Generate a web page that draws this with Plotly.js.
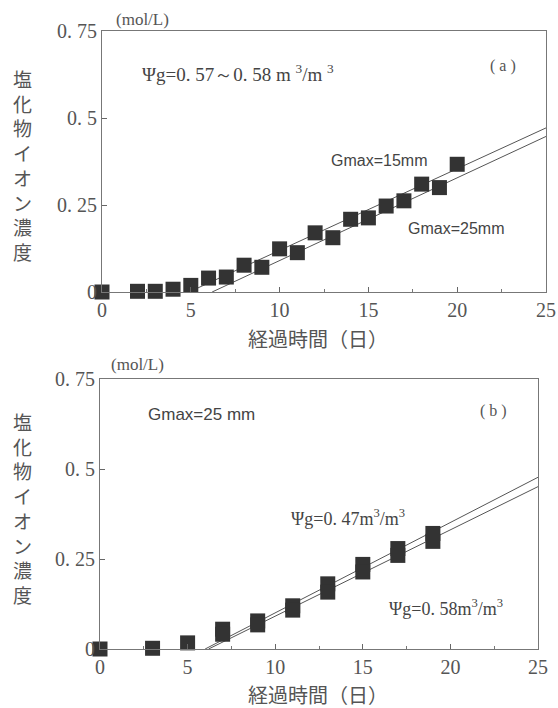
<!DOCTYPE html>
<html>
<head>
<meta charset="utf-8">
<script src="https://cdn.plot.ly/plotly-3.0.1.min.js"></script>
<style>html,body{margin:0;padding:0;background:#fff;}#chart{width:558px;height:708px;}</style>
</head>
<body>
<div id="chart"></div>
<script>
// ---- Data ----
// (a) Ψg = 0.57~0.58
const daysA15 = [0, 2, 4, 6, 8, 10, 12, 14, 16, 18, 20];
const concA15 = [0, 0.002, 0.008, 0.040, 0.077, 0.124, 0.170, 0.209, 0.247, 0.310, 0.367];
const daysA25 = [3, 5, 7, 9, 11, 13, 15, 17, 19];
const concA25 = [0.002, 0.019, 0.043, 0.071, 0.113, 0.156, 0.213, 0.262, 0.300];
const lineA15X = [4.9, 25], lineA15Y = [0, 0.4715];
const lineA25X = [6.2, 25], lineA25Y = [0, 0.447];
// (b) Gmax = 25 mm
const daysB47 = [0, 3, 5, 7, 9, 11, 13, 15, 17, 19];
const concB47 = [0, 0.002, 0.017, 0.055, 0.078, 0.120, 0.181, 0.235, 0.279, 0.321];
const daysB58 = [7, 9, 11, 13, 15, 17, 19];
const concB58 = [0.041, 0.067, 0.108, 0.158, 0.214, 0.260, 0.299];
const lineB47X = [6.0, 25], lineB47Y = [0, 0.477];
const lineB58X = [6.2, 25], lineB58Y = [0, 0.451];
// Tick labels
const xTickVals = [0, 5, 10, 15, 20, 25];
const xTickText = ['0', '5', '10', '15', '20', '25'];
const yTickVals = [0, 0.25, 0.5, 0.75];
const yTickText = ['0', '0. 25', '0. 5', '0. 75'];

// ---- Styling ----
const W = 558, H = 708;
const px = v => v / W, py = v => 1 - v / H;
const markerStyle = {symbol: 'square', size: 15, color: '#333'};
const lineStyle = {color: '#555', width: 1};
const serif = 'Liberation Serif, DejaVu Serif, serif';
const jp = 'Noto Sans CJK JP, sans-serif';

function pts(x, y, xa, ya) {
  return {x, y, xaxis: xa, yaxis: ya, type: 'scatter', mode: 'markers', marker: markerStyle, cliponaxis: false, hoverinfo: 'skip'};
}
function ln(x, y, xa, ya) {
  return {x, y, xaxis: xa, yaxis: ya, type: 'scatter', mode: 'lines', line: lineStyle, cliponaxis: true, hoverinfo: 'skip'};
}

const data = [
  ln(lineA15X, lineA15Y, 'x', 'y'),
  ln(lineA25X, lineA25Y, 'x', 'y'),
  pts(daysA15, concA15, 'x', 'y'),
  pts(daysA25, concA25, 'x', 'y'),
  ln(lineB47X, lineB47Y, 'x2', 'y2'),
  ln(lineB58X, lineB58Y, 'x2', 'y2'),
  pts(daysB47, concB47, 'x2', 'y2'),
  pts(daysB58, concB58, 'x2', 'y2')
];

function xax(domain, anchor) {
  return {
    domain, anchor, range: [0, 25], tickvals: xTickVals, ticktext: xTickText,
    ticks: 'inside', ticklen: 5, tickcolor: '#666', showgrid: false, zeroline: false,
    showline: true, mirror: true, linecolor: '#777', linewidth: 1,
    tickfont: {family: serif, size: 20, color: '#555'},
    minor: {ticks: 'inside', tickvals: [2.5, 7.5, 12.5, 17.5, 22.5], ticklen: 3, tickcolor: '#777', showgrid: false},
    fixedrange: true
  };
}
function yax(domain, anchor) {
  return {
    domain, anchor, range: [0, 0.75], tickvals: yTickVals, ticktext: yTickText,
    ticks: 'inside', ticklen: 5, tickcolor: '#666', showgrid: false, zeroline: false,
    showline: true, mirror: true, linecolor: '#777', linewidth: 1,
    tickfont: {family: serif, size: 20, color: '#555'}, fixedrange: true
  };
}

const vTitle = '塩<br>化<br>物<br>イ<br>オ<br>ン<br>濃<br>度';
function ann(text, x, y, font, extra) {
  return Object.assign({text, x: px(x), y: py(y), xref: 'paper', yref: 'paper', showarrow: false,
    xanchor: 'center', yanchor: 'middle', font}, extra || {});
}
const fJp = {family: jp, size: 19, color: '#555'};
const fSerif = {family: serif, size: 18, color: '#444'};
const fNarrow = {family: 'Liberation Sans Narrow, Liberation Sans, sans-serif', size: 16, color: '#444'};

const layout = {
  width: W, height: H, margin: {l: 0, r: 0, t: 0, b: 0},
  paper_bgcolor: '#fff', plot_bgcolor: '#fff', showlegend: false,
  xaxis: xax([px(102), px(546)], 'y'),
  yaxis: yax([py(292), py(31)], 'x'),
  xaxis2: xax([px(100), px(538)], 'y2'),
  yaxis2: yax([py(649), py(379)], 'x2'),
  annotations: [
    ann(vTitle, 22, 165, fJp, {align: 'center'}),
    ann(vTitle, 22, 508, fJp, {align: 'center'}),
    ann('経過時間（日）', 318, 338, {family: jp, size: 20, color: '#555'}),
    ann('経過時間（日）', 318, 694, {family: jp, size: 20, color: '#555'}),
    ann('(mol/L)', 142, 20, {family: serif, size: 17, color: '#555'}),
    ann('(mol/L)', 137, 364, {family: serif, size: 17, color: '#555'}),
    ann('Ψg=0. 57～0. 58 m <sup>3</sup>/m <sup>3</sup>', 238, 73, {family: serif, size: 19, color: '#444'}),
    ann('( a )', 503, 66, {family: serif, size: 16, color: '#555'}),
    ann('Gmax=15mm', 379, 160, fNarrow),
    ann('Gmax=25mm', 456, 228, fNarrow),
    ann('Gmax=25 mm', 201, 414, {family: 'Liberation Sans, sans-serif', size: 17, color: '#444'}),
    ann('( b )', 493, 411, {family: serif, size: 16, color: '#555'}),
    ann('Ψg=0. 47m<sup>3</sup>/m<sup>3</sup>', 348, 517, fSerif),
    ann('Ψg=0. 58m<sup>3</sup>/m<sup>3</sup>', 446, 607, fSerif)
  ]
};

Plotly.newPlot('chart', data, layout, {staticPlot: true});
</script>
</body>
</html>
